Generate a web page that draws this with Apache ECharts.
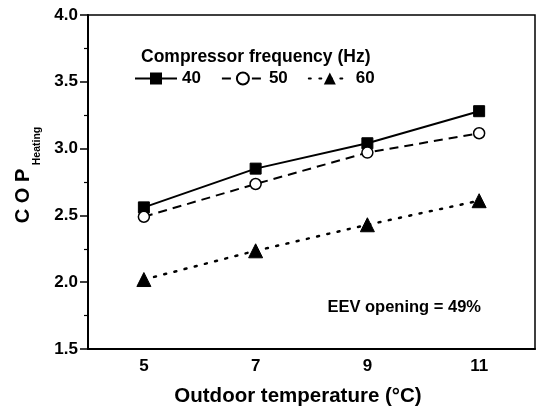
<!DOCTYPE html>
<html>
<head>
<meta charset="utf-8">
<script src="https://cdn.jsdelivr.net/npm/echarts@6/dist/echarts.min.js"></script>
<style>html,body{margin:0;padding:0;background:#fff;}#c{width:540px;height:407px;}</style>
</head>
<body>
<div id="c"></div>
<script>
const categories = ['5', '7', '9', '11'];
const seriesNames = ['40', '50', '60'];
const cop40 = [2.56, 2.85, 3.04, 3.28];
const cop50 = [2.49, 2.735, 2.97, 3.115];
const cop60 = [2.02, 2.235, 2.43, 2.61];
const yMin = 1.5, yMax = 4.0, yStep = 0.5;

const FONT = 'Liberation Sans, Arial, sans-serif';
const chart = echarts.init(document.getElementById('c'), null, {renderer: 'canvas'});
chart.setOption({
  animation: false,
  backgroundColor: '#fff',
  grid: {left: 88, right: 5, top: 15, bottom: 58, show: true, borderColor: '#000', borderWidth: 1.5, backgroundColor: 'transparent'},
  title: {
    text: 'Compressor frequency (Hz)', left: 136, top: 43,
    textStyle: {fontFamily: FONT, fontWeight: 'bold', fontSize: 17.5, color: '#000'}
  },
  legend: {
    left: 129, top: 65, itemWidth: 42, itemHeight: 15, itemGap: 20,
    data: seriesNames,
    textStyle: {fontFamily: FONT, fontWeight: 'bold', fontSize: 17, color: '#000'}
  },
  xAxis: {
    type: 'category', data: categories, boundaryGap: true,
    axisLine: {lineStyle: {color: '#000', width: 2}},
    axisTick: {alignWithLabel: true, length: 7, lineStyle: {color: '#000', width: 1.5}},
    axisLabel: {margin: 9, fontFamily: FONT, fontWeight: 'bold', fontSize: 17, color: '#000'},
    splitLine: {show: false}
  },
  yAxis: {
    type: 'value', min: yMin, max: yMax, interval: yStep,
    axisLine: {show: true, lineStyle: {color: '#000', width: 2}},
    axisTick: {show: true, length: 8, lineStyle: {color: '#000', width: 1.5}},
    minorTick: {show: true, splitNumber: 2, length: 4, lineStyle: {color: '#000', width: 1.2}},
    axisLabel: {margin: 10, fontFamily: FONT, fontWeight: 'bold', fontSize: 17, color: '#000',
      formatter: v => v.toFixed(1)},
    splitLine: {show: false}
  },
  graphic: [
    {type: 'text', x: 481, y: 307, style: {text: 'EEV opening = 49%', align: 'right', verticalAlign: 'middle',
      font: 'bold 16.5px ' + FONT, fill: '#000'}},
    {type: 'text', x: 298, y: 396, style: {text: 'Outdoor temperature (°C)', align: 'center', verticalAlign: 'middle',
      font: 'bold 20.5px ' + FONT, fill: '#000'}},
    {type: 'text', x: 23, y: 196, rotation: Math.PI / 2, style: {text: 'C O P', align: 'center', verticalAlign: 'middle',
      font: 'bold 20px ' + FONT, fill: '#000'}},
    {type: 'text', x: 37, y: 146, rotation: Math.PI / 2, style: {text: 'Heating', align: 'center', verticalAlign: 'middle',
      font: 'bold 10.5px ' + FONT, fill: '#000'}}
  ],
  series: [
    {name: seriesNames[0], type: 'line', data: cop40, symbol: 'rect', symbolSize: 11,
      lineStyle: {color: '#000', width: 2, type: 'solid'}, itemStyle: {color: '#000', borderColor: '#000'}},
    {name: seriesNames[1], type: 'line', data: cop50, symbol: 'circle', symbolSize: 11,
      lineStyle: {color: '#000', width: 2, type: [9, 6]}, itemStyle: {color: '#fff', borderColor: '#000', borderWidth: 1.5}},
    {name: seriesNames[2], type: 'line', data: cop60, symbol: 'triangle', symbolSize: 14,
      lineStyle: {color: '#000', width: 2.5, type: [2, 8.5], cap: 'round'}, itemStyle: {color: '#000', borderColor: '#000'}}
  ]
});
</script>
</body>
</html>
